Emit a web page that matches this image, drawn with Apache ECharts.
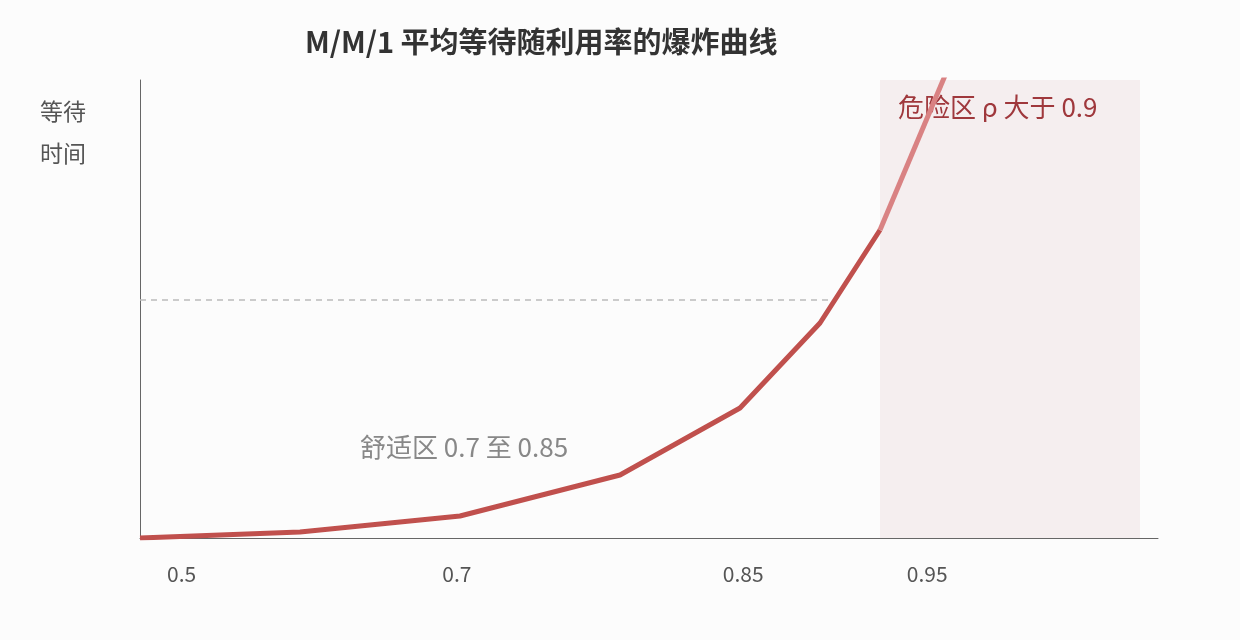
<!DOCTYPE html>
<html><head><meta charset="utf-8">
<script src="https://cdn.jsdelivr.net/npm/echarts@6/dist/echarts.min.js"></script>
<style>html,body{margin:0;background:#fcfcfc}#c{width:1240px;height:640px}</style></head>
<body><div id="c"></div>
<script>
const rhoPos = [0.5, 0.6, 0.7, 0.8, 0.875, 0.925, 0.9625];
const waitVals = [0, 6, 22, 63, 130, 215, 308];
const dangerPos = [0.9625, 1.0125];
const dangerVals = [308, 498];
const tickPos = [0.526, 0.698, 0.877, 0.992];
const tickLabels = ['0.5', '0.7', '0.85', '0.95'];
const font = '"Noto Sans CJK SC","Noto Sans",sans-serif';
const chart = echarts.init(document.getElementById('c'));
chart.setOption({
  backgroundColor: '#fcfcfc',
  animation: false,
  title: {text: 'M/M/1 平均等待随利用率的爆炸曲线', left: 300, top: 22,
    textStyle: {fontSize: 29, fontWeight: 'bold', color: '#333', fontFamily: font}},
  grid: {left: 140, right: 82, top: 80, bottom: 102},
  xAxis: {type: 'value', min: 0.5, max: 1.13625, splitLine: {show: false},
    axisLine: {lineStyle: {color: '#666'}}, axisTick: {show: false},
    axisLabel: {customValues: tickPos, margin: 26, fontSize: 21, color: '#555', fontFamily: font,
      formatter: v => { const i = tickPos.findIndex(t => Math.abs(t - v) < 1e-6); return i >= 0 ? tickLabels[i] : ''; }}},
  yAxis: {type: 'value', min: 0, max: 458, splitLine: {show: false},
    axisLine: {show: true, lineStyle: {color: '#666'}}, axisTick: {show: false}, axisLabel: {show: false}},
  graphic: [
    {type: 'text', left: 40, top: 90, style: {text: '等待\n时间', fontSize: 23, lineHeight: 42, fill: '#555', fontFamily: font}},
    {type: 'text', left: 360, top: 434, style: {text: '舒适区 0.7 至 0.85', fontSize: 26, fill: '#888', fontFamily: font}},
    {type: 'text', left: 898, top: 94, style: {text: '危险区 ρ 大于 0.9', fontSize: 26, fill: '#a0383c', fontFamily: font}}
  ],
  series: [
    {type: 'line', data: rhoPos.map((x, i) => [x, waitVals[i]]), symbol: 'none', clip: true,
      lineStyle: {color: '#c0504d', width: 5}, z: 3,
      markArea: {silent: true, itemStyle: {color: 'rgba(160,60,70,0.07)'},
        data: [[{xAxis: 0.9625, yAxis: 0}, {xAxis: 1.125, yAxis: 458}]]},
      markLine: {silent: true, symbol: 'none', label: {show: false},
        lineStyle: {color: '#bbb', type: [6, 5], width: 1.5},
        data: [[{coord: [0.5, 238]}, {coord: [0.93125, 238]}]]}},
    {type: 'line', data: dangerPos.map((x, i) => [x, dangerVals[i]]), symbol: 'none', clip: true,
      lineStyle: {color: '#d98283', width: 5}, z: 3}
  ]
});
</script></body></html>
